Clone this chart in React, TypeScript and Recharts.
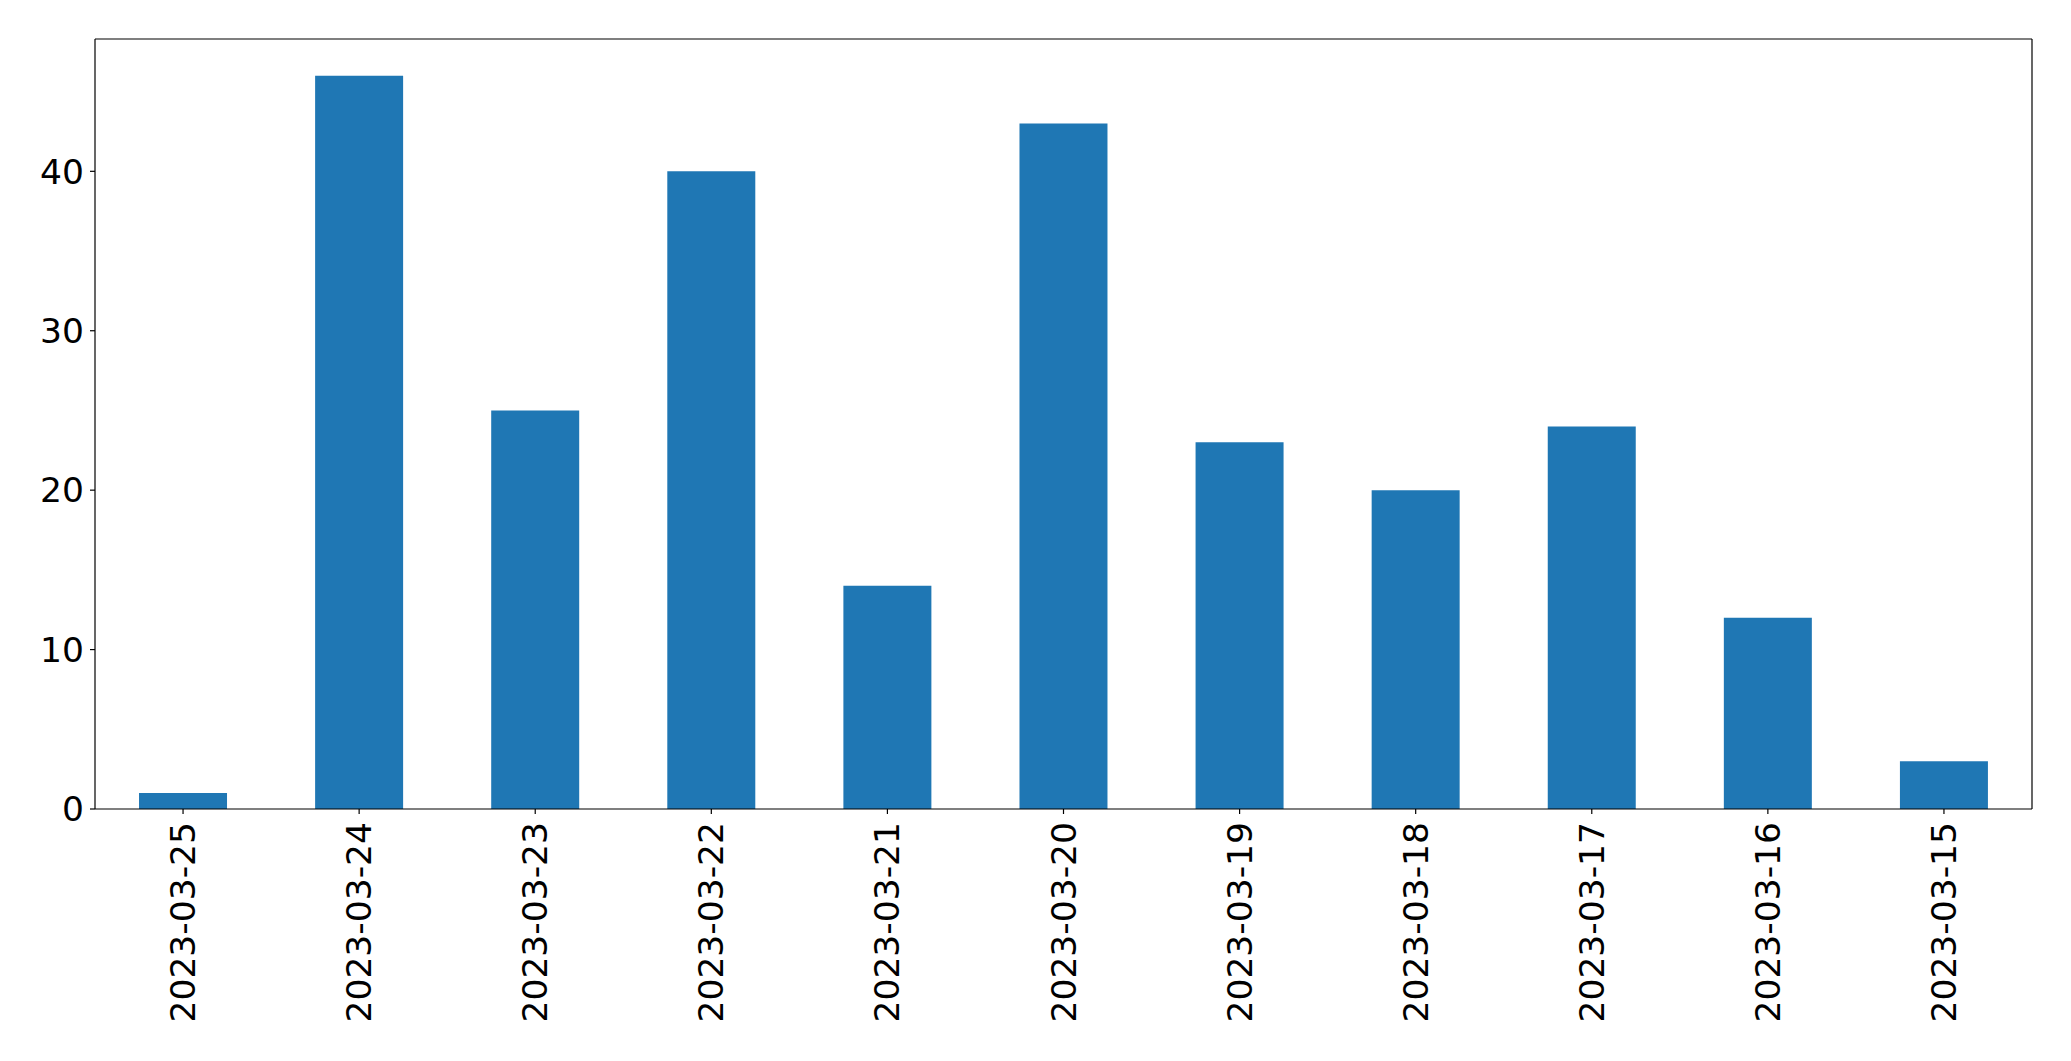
import React from "react";
import { BarChart, Bar, XAxis, YAxis, ReferenceLine } from "recharts";

const dates = ["2023-03-25","2023-03-24","2023-03-23","2023-03-22","2023-03-21","2023-03-20","2023-03-19","2023-03-18","2023-03-17","2023-03-16","2023-03-15"];
const counts = [1, 46, 25, 40, 14, 43, 23, 20, 24, 12, 3];
const yTicks = [0, 10, 20, 30, 40];

const data = dates.map((d, i) => ({ date: d, count: counts[i] }));
const FONT = "'DejaVu Sans', sans-serif";
const FS = 34.5;
const YMAX = 48.3;

const XTick = (props: any) => {
  const { x, y, payload } = props;
  return (
    <g transform={`translate(${x},${y})`}>
      <text transform="rotate(-90)" x={-8} y={0} textAnchor="end" dominantBaseline="central" fontSize={FS} fontFamily={FONT} fill="#000">
        {payload.value}
      </text>
    </g>
  );
};

export default function App() {
  return (
    <div style={{ position: "absolute", left: 0, top: 0, background: "#fff" }}>
      <BarChart width={2071} height={1061} data={data} margin={{ top: 39, right: 0, bottom: 0, left: 0 }} barCategoryGap="25%">
        <XAxis dataKey="date" height={252} interval={0} tick={<XTick />} tickSize={5} tickMargin={0} stroke="#000" strokeWidth={1.2} />
        <YAxis width={95} domain={[0, YMAX]} ticks={yTicks} allowDataOverflow tickSize={5} tickMargin={6} stroke="#000" strokeWidth={1.2} tick={{ fontSize: FS, fontFamily: FONT, fill: "#000" }} />
        <YAxis yAxisId="right" orientation="right" width={39} domain={[0, YMAX]} tick={false} tickLine={false} stroke="#000" strokeWidth={1.2} />
        <ReferenceLine y={YMAX} stroke="#000" strokeWidth={1.2} ifOverflow="visible" />
        <Bar dataKey="count" fill="#1f77b4" isAnimationActive={false} />
      </BarChart>
    </div>
  );
}
